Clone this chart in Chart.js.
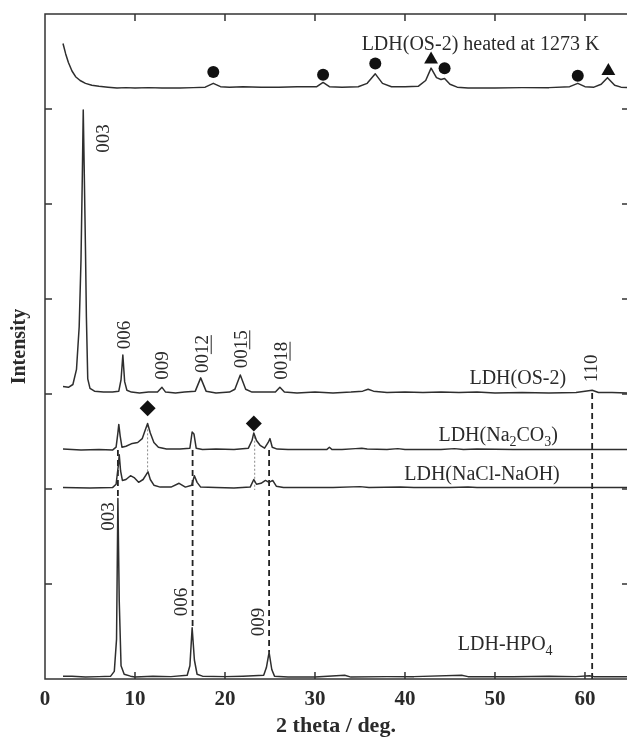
<!DOCTYPE html>
<html>
<head>
<meta charset="utf-8">
<script src="https://cdn.jsdelivr.net/npm/chart.js@4.4.0/dist/chart.umd.min.js"></script>
<style>
  html, body { margin: 0; padding: 0; background: #fff; overflow: hidden; }
  #xrdChart { display: block; }
</style>
</head>
<body>
<canvas id="xrdChart" width="627" height="744"></canvas>
<script>
// ================= DATA (2 theta / deg. vs. intensity above each trace's baseline) =================
const xTicks = [0, 10, 20, 30, 40, 50, 60];
const xMin = 0;
const xMax = 64.67;   // the plot is cut at the right edge of the figure

// LDH(OS-2) heated at 1273 K
const heatTheta = [2.0, 2.3, 2.6, 3.0, 3.4, 3.9, 4.5, 5.2, 6.0, 7.0, 8.0, 9.0, 10.0, 11.5, 13.0, 15.0, 16.5, 17.8, 18.7, 19.5, 20.5, 22.0, 24.0, 26.0, 28.0, 30.2, 30.9, 31.6, 33.0, 34.8, 35.8, 36.7, 37.5, 38.5, 40.0, 41.5, 42.3, 42.9, 43.5, 44.0, 44.4, 45.0, 45.8, 47.0, 50.0, 53.0, 56.0, 58.3, 59.2, 60.0, 61.0, 61.8, 62.5, 63.3, 64.0, 65.0];
const heatI     = [47, 36, 27, 18, 12, 8, 5, 3, 2, 1, 0, 0.5, 0, 0.5, 0, 0, 0.5, 1, 5, 1.5, 1, 1.5, 1, 1, 1.5, 1.5, 6, 1.5, 1, 1.5, 5, 15, 5, 1.5, 1.5, 2, 8, 21, 11, 9, 10, 4, 1, 0, 0, 0.5, 0.5, 1.5, 5, 1.5, 1, 4, 11, 3, 1, 0.5];

// LDH(OS-2)
const os2Theta = [2.0, 2.6, 3.1, 3.5, 3.8, 4.0, 4.15, 4.25, 4.35, 4.5, 4.6, 4.75, 5.0, 5.5, 6.5, 7.5, 8.2, 8.45, 8.65, 8.85, 9.1, 9.6, 10.5, 11.5, 12.5, 13.0, 13.4, 14.5, 15.5, 16.7, 17.3, 17.9, 19.0, 20.5, 21.1, 21.7, 22.3, 23.0, 24.5, 25.6, 26.1, 26.6, 28.0, 30.0, 32.0, 34.0, 35.3, 35.9, 36.5, 38.0, 40.0, 42.0, 44.0, 46.0, 48.0, 50.0, 53.0, 56.0, 59.0, 60.8, 61.5, 63.0, 65.0];
const os2I     = [7, 6, 9, 25, 70, 140, 230, 298, 240, 150, 80, 15, 5, 2, 1, 1, 2, 14, 40, 12, 3, 1, 0, 1, 1, 6, 1, 0, 1, 2, 16, 2, 0, 1, 4, 19, 4, 1, 1, 1, 6, 1, 0, 1, 0, 1, 2, 4, 2, 0.5, 1, 0.5, 1, 0.5, 1, 0, 0.5, 0, 0.5, 3, 0.5, 0.5, 0];

// LDH(Na2CO3)
const carbTheta = [2.0, 4.0, 6.0, 7.5, 7.9, 8.1, 8.2, 8.35, 8.55, 9.0, 9.7, 10.3, 10.8, 11.1, 11.4, 11.7, 12.1, 12.6, 13.5, 15.0, 16.1, 16.35, 16.55, 16.8, 17.5, 19.0, 21.0, 22.6, 23.0, 23.2, 23.5, 23.9, 24.4, 24.8, 25.0, 25.25, 25.8, 27.0, 29.0, 31.3, 31.6, 31.9, 33.0, 34.5, 35.2, 35.8, 38.0, 39.2, 40.0, 44.0, 45.5, 46.5, 48.0, 52.0, 56.0, 60.0, 65.0];
const carbI     = [1, 0, 0.5, 0, 3, 18, 27, 15, 3, 4, 7, 8, 12, 20, 28, 18, 8, 3, 1, 1, 2, 19, 17, 2, 0.5, 1, 0.5, 2, 10, 18, 10, 5, 2, 8, 12, 3, 1, 0.5, 0.5, 0.5, 3, 0.5, 0.5, 1.5, 2, 1, 0.5, 1.5, 0.5, 0.5, 1.5, 0.5, 1, 0.5, 0.5, 0.5, 0.5];

// LDH(NaCl-NaOH)
const clTheta = [2.0, 5.0, 7.5, 7.9, 8.15, 8.25, 8.4, 8.6, 9.0, 9.5, 9.9, 10.4, 10.9, 11.3, 11.45, 11.7, 12.1, 12.8, 14.0, 14.9, 15.6, 16.3, 16.6, 16.9, 17.3, 19.0, 21.0, 22.8, 23.2, 23.5, 24.0, 24.5, 24.9, 25.3, 25.7, 26.5, 29.0, 32.0, 35.0, 36.0, 39.5, 41.0, 45.0, 47.0, 48.0, 55.0, 60.0, 65.0];
const clI     = [0.5, 0, 0.5, 4, 24, 35, 18, 8, 9, 13, 11, 6, 9, 15, 17, 9, 3, 1, 1, 5, 1, 3, 13, 6, 1, 0.5, 0, 1, 9, 4, 5, 8, 6, 8, 2, 0.5, 0.5, 0.5, 1.5, 0.5, 1, 0.5, 0.5, 1, 0.5, 0.5, 0.5, 0.5];

// LDH-HPO4
const hpoTheta = [2.0, 3.0, 4.5, 6.0, 7.3, 7.7, 7.95, 8.1, 8.25, 8.45, 8.8, 9.5, 10.0, 12.0, 14.0, 15.8, 16.1, 16.35, 16.6, 16.9, 17.5, 20.0, 22.0, 24.3, 24.6, 24.9, 25.2, 25.5, 27.0, 30.0, 33.3, 34.0, 38.0, 41.0, 46.3, 47.0, 52.0, 56.0, 59.0, 60.5, 61.0, 65.0];
const hpoI     = [1, 1, 0, 0.5, 1, 6, 40, 188, 80, 12, 3, 1, 0, 1, 0.5, 2, 12, 52, 18, 3, 1, 0.5, 1, 2, 10, 26, 8, 1, 0, 0, 2, 0, 0.5, 0.5, 2, 0.5, 0.5, 1, 0.5, 1.5, 0.5, 0.5];

// vertical offsets of the stacked traces
const heatOffset = 622;
const os2Offset = 301;
const carbOffset = 241;
const clOffset = 201;
const hpoOffset = 2;

// phase markers (2 theta, plotted height)
const circleTheta = [18.7, 30.9, 36.7, 44.4, 59.2];
const circleY     = [639, 636, 648, 643, 635];
const triTheta    = [42.9, 62.6];
const triY        = [652, 640];
const diamondTheta = [11.4, 23.2];
const diamondY     = [285, 269];

// guide lines (2 theta, from, to)
const dashTheta = [8.1, 16.4, 24.9, 60.8];
const dashFrom  = [241, 241, 241, 301];
const dashTo    = [190, 54, 28, 0];
const dotTheta  = [11.4, 23.3];
const dotFrom   = [267, 255];
const dotTo     = [218, 199];

// ================= TEXT LABELS =================
const curveLabels = [
  { parts: [["LDH(OS-2) heated at 1273 K", ""]], x: 61.6, y: 669 },
  { parts: [["LDH(OS-2)", ""]], x: 57.9, y: 318 },
  { parts: [["LDH(Na", ""], ["2", "sub"], ["CO", ""], ["3", "sub"], [")", ""]], x: 57.0, y: 258 },
  { parts: [["LDH(NaCl-NaOH)", ""]], x: 57.2, y: 216 },
  { parts: [["LDH-HPO", ""], ["4", "sub"]], x: 56.4, y: 37 }
];
const peakLabels = [
  { parts: [["003", ""]], x: 6.39, y: 569 },
  { parts: [["006", ""]], x: 8.78, y: 362 },
  { parts: [["009", ""]], x: 12.94, y: 330 },
  { parts: [["00", ""], ["12", "u"]], x: 17.44, y: 342 },
  { parts: [["00", ""], ["15", "u"]], x: 21.72, y: 347 },
  { parts: [["00", ""], ["18", "u"]], x: 26.2, y: 335 },
  { parts: [["110", ""]], x: 60.67, y: 327 },
  { parts: [["003", ""]], x: 6.94, y: 171 },
  { parts: [["006", ""]], x: 15.06, y: 81 },
  { parts: [["009", ""]], x: 23.6, y: 60 }
];

const FONT = '"Liberation Serif", "Times New Roman", serif';
const INK = "#2a2a2a";

function trace(theta, inten, offset) {
  return theta.map((t, i) => ({ x: t, y: inten[i] + offset }));
}
function points(theta, ys) {
  return theta.map((t, i) => ({ x: t, y: ys[i] }));
}

function traceSet(data) {
  return { data, borderColor: "#2e2e2e", borderWidth: 1.5, pointRadius: 0, fill: false, tension: 0, borderJoinStyle: "round" };
}
function markerSet(data, style, r) {
  return { data, showLine: false, pointStyle: style, pointRadius: r, pointBackgroundColor: "#111", pointBorderColor: "#111", pointBorderWidth: 0 };
}

function guideSets() {
  const out = [];
  dashTheta.forEach((t, i) => out.push({
    data: [{ x: t, y: dashFrom[i] }, { x: t, y: dashTo[i] }],
    borderColor: "#222", borderWidth: 1.8, borderDash: [6, 4], pointRadius: 0
  }));
  dotTheta.forEach((t, i) => out.push({
    data: [{ x: t, y: dotFrom[i] }, { x: t, y: dotTo[i] }],
    borderColor: "#8a8a8a", borderWidth: 1, borderDash: [2, 2], pointRadius: 0
  }));
  return out;
}

// draws a run of text parts (normal / subscript / underlined) centred vertically at px,py
function drawParts(ctx, parts, px, py, size, rot, align) {
  ctx.save();
  ctx.translate(px, py);
  ctx.rotate(rot);
  const fontFor = s => (s === "sub" ? size * 0.7 : size) + "px " + FONT;
  const widths = parts.map(([t, s]) => { ctx.font = fontFor(s); return ctx.measureText(t).width; });
  const total = widths.reduce((a, b) => a + b, 0);
  let cx = align === "right" ? -total : align === "center" ? -total / 2 : 0;
  const base = size * 0.33;
  ctx.textAlign = "left";
  ctx.textBaseline = "alphabetic";
  parts.forEach(([t, s], i) => {
    ctx.font = fontFor(s);
    ctx.fillText(t, cx, s === "sub" ? base + size * 0.25 : base);
    if (s === "u") {
      ctx.lineWidth = 1;
      ctx.beginPath();
      ctx.moveTo(cx, base + 3);
      ctx.lineTo(cx + widths[i], base + 3);
      ctx.stroke();
    }
    cx += widths[i];
  });
  ctx.restore();
}

// frame (left, top, bottom; the right side is cut off) with inward ticks and x tick labels
const framePlugin = {
  id: "frame",
  afterDatasetsDraw(chart) {
    const { ctx, chartArea: a, scales: { x, y } } = chart;
    ctx.save();
    ctx.strokeStyle = "#333";
    ctx.lineWidth = 1.5;
    ctx.beginPath();
    ctx.moveTo(a.right + 2, a.top); ctx.lineTo(a.left, a.top);
    ctx.lineTo(a.left, a.bottom); ctx.lineTo(a.right + 2, a.bottom);
    x.ticks.forEach(t => {
      const px = x.getPixelForValue(t.value);
      ctx.moveTo(px, a.bottom); ctx.lineTo(px, a.bottom - 7);
      ctx.moveTo(px, a.top); ctx.lineTo(px, a.top + 7);
    });
    y.ticks.forEach(t => {
      const py = y.getPixelForValue(t.value);
      ctx.moveTo(a.left, py); ctx.lineTo(a.left + 7, py);
      ctx.moveTo(a.right + 3, py); ctx.lineTo(a.right - 5, py);
    });
    ctx.stroke();

    ctx.fillStyle = INK;
    ctx.font = "bold 21px " + FONT;
    ctx.textAlign = "center";
    ctx.textBaseline = "middle";
    x.ticks.forEach(t => ctx.fillText(String(t.value), x.getPixelForValue(t.value), a.bottom + 21));
    ctx.restore();
  }
};

const labelPlugin = {
  id: "labels",
  afterDatasetsDraw(chart) {
    const { ctx, scales: { x, y } } = chart;
    ctx.save();
    ctx.fillStyle = INK;
    ctx.strokeStyle = INK;
    curveLabels.forEach(l => drawParts(ctx, l.parts, x.getPixelForValue(l.x), y.getPixelForValue(l.y), 20, 0, "right"));
    peakLabels.forEach(l => drawParts(ctx, l.parts, x.getPixelForValue(l.x), y.getPixelForValue(l.y), 19, -Math.PI / 2, "center"));
    ctx.restore();
  }
};

// ================= CHART =================
window.onload = () => {
  const ctx = document.getElementById("xrdChart");
  new Chart(ctx, {
    type: "line",
    data: {
      datasets: [
        traceSet(trace(heatTheta, heatI, heatOffset)),
        traceSet(trace(os2Theta, os2I, os2Offset)),
        traceSet(trace(carbTheta, carbI, carbOffset)),
        traceSet(trace(clTheta, clI, clOffset)),
        traceSet(trace(hpoTheta, hpoI, hpoOffset)),
        ...guideSets(),
        markerSet(points(circleTheta, circleY), "circle", 6),
        markerSet(points(triTheta, triY), "triangle", 8),
        markerSet(points(diamondTheta, diamondY), "rectRot", 8)
      ]
    },
    options: {
      responsive: false,
      animation: false,
      events: [],
      // autoPadding would reserve room for the marker radius on the right edge
      layout: { autoPadding: false, padding: { left: 0, top: 14, right: 0, bottom: 0 } },
      plugins: { legend: { display: false }, tooltip: { enabled: false } },
      scales: {
        x: {
          type: "linear", min: xMin, max: xMax,
          grid: { display: false, drawTicks: false },
          border: { display: false },
          afterBuildTicks: s => { s.ticks = xTicks.map(v => ({ value: v })); },
          afterFit: s => { s.height = 65; s.paddingLeft = 0; s.paddingRight = 0; },
          ticks: { display: false },
          title: { display: true, text: "2 theta / deg.", color: INK, font: { family: FONT, size: 22, weight: "bold" }, padding: { top: 1, bottom: 4 } }
        },
        y: {
          min: 0, max: 700,
          grid: { display: false, drawTicks: false },
          border: { display: false },
          afterFit: s => { s.width = 45; s.paddingTop = 0; s.paddingBottom = 0; },
          ticks: { stepSize: 100, display: false },
          title: { display: true, text: "Intensity", color: INK, font: { family: FONT, size: 20, weight: "bold" }, padding: { top: 8, bottom: 13 } }
        }
      }
    },
    plugins: [framePlugin, labelPlugin]
  });
};
</script>
</body>
</html>
